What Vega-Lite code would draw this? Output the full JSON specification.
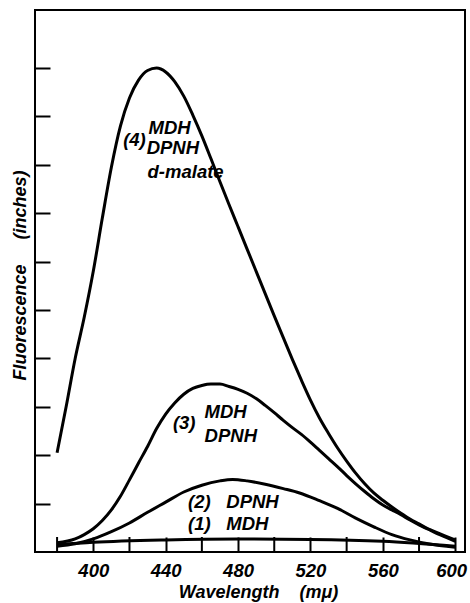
{
  "$schema": "https://vega.github.io/schema/vega-lite/v6.json",
  "width": 430,
  "height": 542,
  "autosize": {"type": "none"},
  "padding": {"left": 35, "top": 10, "right": 5, "bottom": 51},
  "background": "white",
  "config": {
    "view": {"stroke": "black", "strokeWidth": 2},
    "font": "Liberation Sans"
  },
  "datasets": {
    "curves": [
      {"wl": 380, "f": 2.05, "curve": "4"}, {"wl": 385, "f": 3.0, "curve": "4"}, {"wl": 390, "f": 4.0, "curve": "4"}, {"wl": 395, "f": 4.85, "curve": "4"}, {"wl": 400, "f": 5.8, "curve": "4"}, {"wl": 405, "f": 6.9, "curve": "4"}, {"wl": 410, "f": 7.95, "curve": "4"}, {"wl": 415, "f": 8.8, "curve": "4"}, {"wl": 420, "f": 9.38, "curve": "4"}, {"wl": 425, "f": 9.75, "curve": "4"}, {"wl": 430, "f": 9.95, "curve": "4"}, {"wl": 435, "f": 10.0, "curve": "4"}, {"wl": 440, "f": 9.92, "curve": "4"}, {"wl": 445, "f": 9.72, "curve": "4"}, {"wl": 450, "f": 9.42, "curve": "4"}, {"wl": 455, "f": 9.03, "curve": "4"}, {"wl": 460, "f": 8.6, "curve": "4"}, {"wl": 465, "f": 8.13, "curve": "4"}, {"wl": 470, "f": 7.65, "curve": "4"}, {"wl": 475, "f": 7.18, "curve": "4"}, {"wl": 480, "f": 6.72, "curve": "4"}, {"wl": 485, "f": 6.26, "curve": "4"}, {"wl": 490, "f": 5.8, "curve": "4"}, {"wl": 495, "f": 5.34, "curve": "4"}, {"wl": 500, "f": 4.88, "curve": "4"}, {"wl": 505, "f": 4.43, "curve": "4"}, {"wl": 510, "f": 3.98, "curve": "4"}, {"wl": 515, "f": 3.55, "curve": "4"}, {"wl": 520, "f": 3.14, "curve": "4"}, {"wl": 525, "f": 2.77, "curve": "4"}, {"wl": 530, "f": 2.45, "curve": "4"}, {"wl": 535, "f": 2.15, "curve": "4"}, {"wl": 540, "f": 1.88, "curve": "4"}, {"wl": 545, "f": 1.63, "curve": "4"}, {"wl": 550, "f": 1.41, "curve": "4"}, {"wl": 555, "f": 1.22, "curve": "4"}, {"wl": 560, "f": 1.07, "curve": "4"}, {"wl": 565, "f": 0.93, "curve": "4"}, {"wl": 570, "f": 0.8, "curve": "4"}, {"wl": 575, "f": 0.68, "curve": "4"}, {"wl": 580, "f": 0.58, "curve": "4"}, {"wl": 585, "f": 0.48, "curve": "4"}, {"wl": 590, "f": 0.4, "curve": "4"}, {"wl": 595, "f": 0.32, "curve": "4"}, {"wl": 600, "f": 0.25, "curve": "4"},
      {"wl": 380, "f": 0.19, "curve": "3"}, {"wl": 390, "f": 0.27, "curve": "3"}, {"wl": 395, "f": 0.36, "curve": "3"}, {"wl": 400, "f": 0.48, "curve": "3"}, {"wl": 405, "f": 0.65, "curve": "3"}, {"wl": 410, "f": 0.87, "curve": "3"}, {"wl": 415, "f": 1.15, "curve": "3"}, {"wl": 420, "f": 1.49, "curve": "3"}, {"wl": 425, "f": 1.84, "curve": "3"}, {"wl": 430, "f": 2.18, "curve": "3"}, {"wl": 435, "f": 2.55, "curve": "3"}, {"wl": 440, "f": 2.85, "curve": "3"}, {"wl": 445, "f": 3.08, "curve": "3"}, {"wl": 450, "f": 3.26, "curve": "3"}, {"wl": 455, "f": 3.38, "curve": "3"}, {"wl": 460, "f": 3.44, "curve": "3"}, {"wl": 465, "f": 3.47, "curve": "3"}, {"wl": 470, "f": 3.47, "curve": "3"}, {"wl": 475, "f": 3.42, "curve": "3"}, {"wl": 480, "f": 3.36, "curve": "3"}, {"wl": 485, "f": 3.28, "curve": "3"}, {"wl": 490, "f": 3.17, "curve": "3"}, {"wl": 495, "f": 3.03, "curve": "3"}, {"wl": 500, "f": 2.88, "curve": "3"}, {"wl": 505, "f": 2.72, "curve": "3"}, {"wl": 510, "f": 2.57, "curve": "3"}, {"wl": 515, "f": 2.43, "curve": "3"}, {"wl": 520, "f": 2.27, "curve": "3"}, {"wl": 525, "f": 2.1, "curve": "3"}, {"wl": 530, "f": 1.93, "curve": "3"}, {"wl": 535, "f": 1.76, "curve": "3"}, {"wl": 540, "f": 1.58, "curve": "3"}, {"wl": 545, "f": 1.41, "curve": "3"}, {"wl": 550, "f": 1.25, "curve": "3"}, {"wl": 555, "f": 1.1, "curve": "3"}, {"wl": 560, "f": 0.97, "curve": "3"}, {"wl": 565, "f": 0.87, "curve": "3"}, {"wl": 570, "f": 0.77, "curve": "3"}, {"wl": 575, "f": 0.66, "curve": "3"}, {"wl": 580, "f": 0.56, "curve": "3"}, {"wl": 585, "f": 0.47, "curve": "3"}, {"wl": 590, "f": 0.38, "curve": "3"}, {"wl": 595, "f": 0.3, "curve": "3"}, {"wl": 600, "f": 0.22, "curve": "3"},
      {"wl": 380, "f": 0.12, "curve": "2"}, {"wl": 390, "f": 0.17, "curve": "2"}, {"wl": 400, "f": 0.27, "curve": "2"}, {"wl": 410, "f": 0.42, "curve": "2"}, {"wl": 420, "f": 0.6, "curve": "2"}, {"wl": 430, "f": 0.82, "curve": "2"}, {"wl": 440, "f": 1.03, "curve": "2"}, {"wl": 450, "f": 1.24, "curve": "2"}, {"wl": 460, "f": 1.38, "curve": "2"}, {"wl": 470, "f": 1.47, "curve": "2"}, {"wl": 477, "f": 1.5, "curve": "2"}, {"wl": 485, "f": 1.47, "curve": "2"}, {"wl": 495, "f": 1.4, "curve": "2"}, {"wl": 505, "f": 1.31, "curve": "2"}, {"wl": 514, "f": 1.22, "curve": "2"}, {"wl": 525, "f": 1.06, "curve": "2"}, {"wl": 535, "f": 0.9, "curve": "2"}, {"wl": 545, "f": 0.7, "curve": "2"}, {"wl": 555, "f": 0.52, "curve": "2"}, {"wl": 565, "f": 0.36, "curve": "2"}, {"wl": 575, "f": 0.25, "curve": "2"}, {"wl": 585, "f": 0.17, "curve": "2"}, {"wl": 600, "f": 0.1, "curve": "2"},
      {"wl": 380, "f": 0.15, "curve": "1"}, {"wl": 400, "f": 0.2, "curve": "1"}, {"wl": 440, "f": 0.25, "curve": "1"}, {"wl": 480, "f": 0.27, "curve": "1"}, {"wl": 520, "f": 0.26, "curve": "1"}, {"wl": 560, "f": 0.22, "curve": "1"}, {"wl": 600, "f": 0.12, "curve": "1"}
    ],
    "minorTicks": [
      {"wl": 380}, {"wl": 420}, {"wl": 460}, {"wl": 500}, {"wl": 540}, {"wl": 580}
    ],
    "notes": [
      {"wl": 416.5, "f": 8.51, "label": "(4)"},
      {"wl": 430.5, "f": 8.76, "label": "MDH"},
      {"wl": 429.5, "f": 8.35, "label": "DPNH"},
      {"wl": 430, "f": 7.85, "label": "d-malate"},
      {"wl": 444, "f": 2.67, "label": "(3)"},
      {"wl": 461.5, "f": 2.89, "label": "MDH"},
      {"wl": 461.5, "f": 2.4, "label": "DPNH"},
      {"wl": 452.4, "f": 1.03, "label": "(2)"},
      {"wl": 473.5, "f": 1.03, "label": "DPNH"},
      {"wl": 452.4, "f": 0.58, "label": "(1)"},
      {"wl": 473.5, "f": 0.58, "label": "MDH"}
    ]
  },
  "layer": [
    {
      "data": {"name": "curves"},
      "mark": {"type": "line", "color": "black", "strokeWidth": 3, "interpolate": "monotone"},
      "encoding": {
        "x": {
          "field": "wl", "type": "quantitative",
          "scale": {"domain": [367.8, 605.4], "nice": false, "zero": false},
          "axis": {
            "values": [400, 440, 480, 520, 560, 600],
            "labelOverlap": false,
            "domain": false, "grid": false,
            "tickSize": -15, "tickWidth": 2, "tickColor": "black",
            "labelFont": "Liberation Sans", "labelFontStyle": "italic", "labelFontWeight": "bold",
            "labelFontSize": 18.5, "labelColor": "black", "labelPadding": 24, "labelFlush": false,
            "labelOffset": {"condition": {"test": "datum.value == 600", "value": -4}, "value": 0},
            "title": "Wavelength\u00a0\u00a0\u00a0\u00a0(mμ)",
            "titleFont": "Liberation Sans", "titleFontStyle": "italic", "titleFontWeight": "bold",
            "titleFontSize": 18, "titleColor": "black",
            "titleX": 223, "titleY": 45, "titleBaseline": "alphabetic"
          }
        },
        "y": {
          "field": "f", "type": "quantitative",
          "scale": {"domain": [0, 11.2], "nice": false},
          "axis": {
            "values": [1, 2, 3, 4, 5, 6, 7, 8, 9, 10],
            "labels": false, "domain": false, "grid": false,
            "tickSize": -15, "tickWidth": 2, "tickColor": "black",
            "title": "Fluorescence\u00a0\u00a0\u00a0\u00a0\u00a0(inches)",
            "titleFont": "Liberation Sans", "titleFontStyle": "italic", "titleFontWeight": "bold",
            "titleFontSize": 18, "titleColor": "black",
            "titleX": -10, "titleY": 265, "titleBaseline": "alphabetic", "titleAngle": -90
          }
        },
        "detail": {"field": "curve"}
      }
    },
    {
      "data": {"name": "minorTicks"},
      "mark": {"type": "rule", "color": "black", "strokeWidth": 2},
      "encoding": {
        "x": {"field": "wl", "type": "quantitative"},
        "y": {"datum": 0},
        "y2": {"datum": 0.31}
      }
    },
    {
      "data": {"name": "notes"},
      "mark": {"type": "text", "align": "left", "baseline": "middle", "font": "Liberation Sans", "fontStyle": "italic", "fontWeight": "bold", "fontSize": 18.5, "color": "black"},
      "encoding": {
        "x": {"field": "wl", "type": "quantitative"},
        "y": {"field": "f", "type": "quantitative"},
        "text": {"field": "label"}
      }
    }
  ]
}
